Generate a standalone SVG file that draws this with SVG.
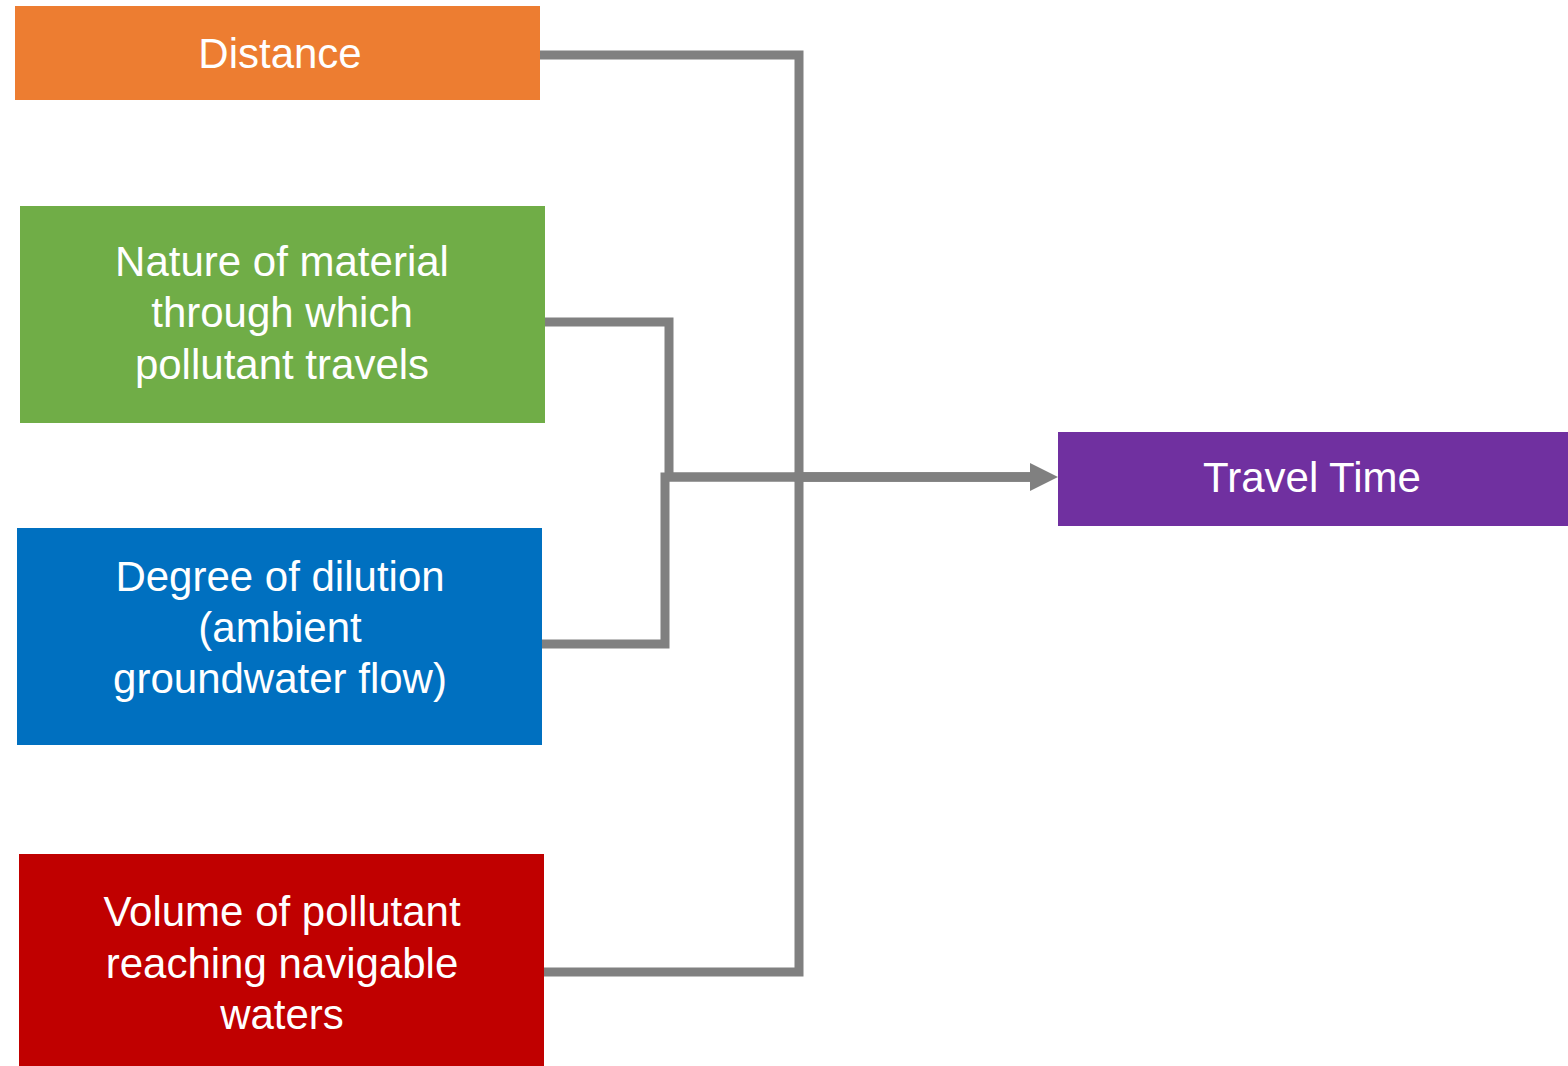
<svg xmlns="http://www.w3.org/2000/svg" width="1568" height="1066" viewBox="0 0 1568 1066">
<style>
.lbl{font-family:"Liberation Sans",Arial,sans-serif;font-size:42px;fill:#ffffff;text-anchor:middle}
.conn{fill:none;stroke:#808080;stroke-width:9;stroke-linejoin:miter}
</style>
<defs>
<marker id="arr" markerUnits="userSpaceOnUse" markerWidth="30" markerHeight="28" refX="2" refY="14" orient="auto">
<path d="M0,0 L28,14 L0,28 Z" fill="#808080"/>
</marker>
</defs>
<rect width="1568" height="1066" fill="#ffffff"/>
<g id="connectors">
<path class="conn" d="M540,55 H799 V477 H1032"/>
<path class="conn" d="M544,972 H799 V477 H1032"/>
<path class="conn" d="M545,322 H669 V477 H1032"/>
<path class="conn" d="M542,644 H665 V477 H1032" marker-end="url(#arr)"/>
</g>
<g id="node-distance">
<rect x="15" y="6" width="525" height="94" fill="#ED7D31"/>
<text class="lbl" x="280" y="68">Distance</text>
</g>
<g id="node-nature">
<rect x="20" y="206" width="525" height="217" fill="#70AD47"/>
<text class="lbl" x="282" y="276">Nature of material</text>
<text class="lbl" x="282" y="327">through which</text>
<text class="lbl" x="282" y="379">pollutant travels</text>
</g>
<g id="node-dilution">
<rect x="17" y="528" width="525" height="217" fill="#0070C0"/>
<text class="lbl" x="280" y="591">Degree of dilution</text>
<text class="lbl" x="280" y="642">(ambient</text>
<text class="lbl" x="280" y="693">groundwater flow)</text>
</g>
<g id="node-volume">
<rect x="19" y="854" width="525" height="212" fill="#C00000"/>
<text class="lbl" x="282" y="926">Volume of pollutant</text>
<text class="lbl" x="282" y="978">reaching navigable</text>
<text class="lbl" x="282" y="1029">waters</text>
</g>
<g id="node-travel">
<rect x="1058" y="432" width="510" height="94" fill="#7030A0"/>
<text class="lbl" x="1312" y="492">Travel Time</text>
</g>
</svg>
